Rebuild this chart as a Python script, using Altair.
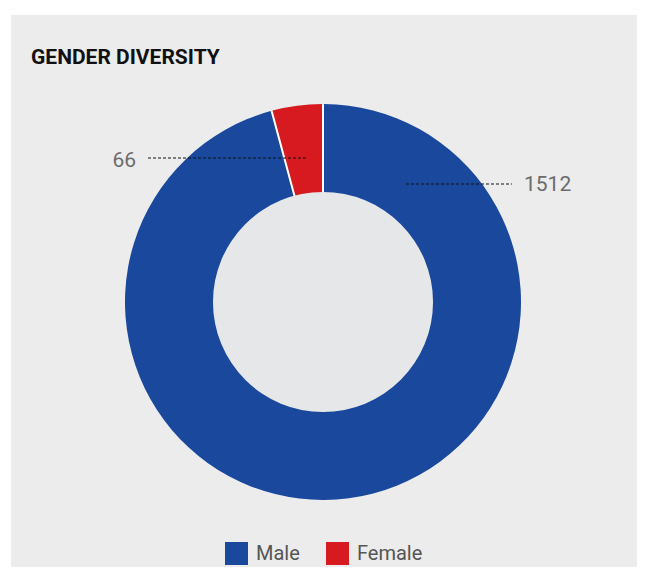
import altair as alt
import pandas as pd

# ---- data ----
gender = ["Male", "Female"]
count = [1512, 66]
order = [1, 2]
colors = ["#19489d", "#d71920"]

df = pd.DataFrame({"gender": gender, "count": count, "order": order})
ring = pd.DataFrame({"v": [1]})

CX, CY = 312, 287  # donut centre inside the panel

base = alt.Chart(df)

# white ring underneath, so the gaps between slices show white
under = alt.Chart(ring).mark_arc(outerRadius=197, innerRadius=106, fill="white").encode(
    theta=alt.Theta("v:Q"),
    x=alt.value(CX),
    y=alt.value(CY),
)

donut = base.mark_arc(outerRadius=198, innerRadius=105, padAngle=0.009).encode(
    theta=alt.Theta("count:Q", stack=True),
    color=alt.Color(
        "gender:N",
        sort=gender,
        scale=alt.Scale(domain=gender, range=colors),
        legend=alt.Legend(
            title=None,
            orient="none",
            legendX=214,
            legendY=527,
            direction="horizontal",
            symbolType="square",
            symbolSize=529,
            symbolStrokeWidth=0,
            symbolOpacity=1,
            labelFont="Roboto",
            labelFontSize=20,
            labelColor="#555555",
            labelOffset=8,
            columnPadding=26,
            padding=0,
        ),
    ),
    order=alt.Order("order:Q"),
    x=alt.value(CX),
    y=alt.value(CY),
)

inner = alt.Chart(ring).mark_arc(outerRadius=110, innerRadius=0, fill="#e6e7e9").encode(
    theta=alt.Theta("v:Q"),
    x=alt.value(CX),
    y=alt.value(CY),
)

rule_f = base.transform_filter(alt.datum.gender == "Female").mark_rule(
    color="#111111", strokeWidth=1, strokeDash=[3, 2]
).encode(x=alt.value(137), x2=alt.value(297), y=alt.value(143))

rule_m = base.transform_filter(alt.datum.gender == "Male").mark_rule(
    color="#111111", strokeWidth=1, strokeDash=[3, 2]
).encode(x=alt.value(395), x2=alt.value(501), y=alt.value(169))

text_f = base.transform_filter(alt.datum.gender == "Female").mark_text(
    align="right", baseline="middle", font="Roboto", fontSize=21, color="#6b6b6b"
).encode(text=alt.Text("count:Q", format="d"), x=alt.value(125), y=alt.value(146))

text_m = base.transform_filter(alt.datum.gender == "Male").mark_text(
    align="left", baseline="middle", font="Roboto", fontSize=21, color="#6b6b6b"
).encode(text=alt.Text("count:Q", format="d"), x=alt.value(513), y=alt.value(170))

chart = (
    alt.layer(under, donut, inner, rule_f, rule_m, text_f, text_m)
    .resolve_scale(theta="independent")
    .properties(
        width=626,
        height=552,
        background="white",
        padding={"left": 3, "top": 7, "right": 0, "bottom": 0},
        autosize=alt.AutoSizeParams(type="none"),
        title=alt.TitleParams(
            "GENDER DIVERSITY",
            anchor="start",
            frame="group",
            font="Roboto",
            fontSize=21,
            fontWeight="bold",
            color="#111111",
            baseline="alphabetic",
            offset=0,
            dx=20,
            dy=70,
        ),
    )
    .configure_view(fill="#ececec", stroke=None)
)

chart.save("out.html", embed_options={"renderer": "svg", "actions": False})
